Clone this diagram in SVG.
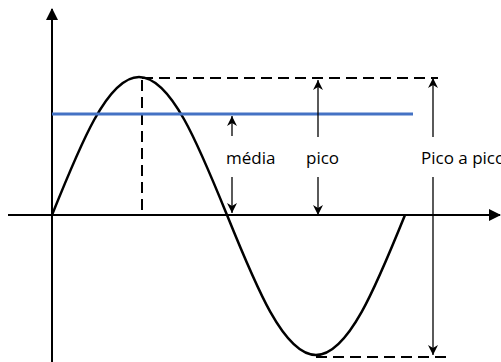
<svg xmlns="http://www.w3.org/2000/svg" width="501" height="362" viewBox="0 0 501 362">
<style>
.axis{stroke:#000;stroke-width:2;fill:none}
.wave{stroke:#000;stroke-width:2.5;fill:none}
.dash{stroke:#000;stroke-width:2;fill:none;stroke-dasharray:11 6}
.arr{stroke:#000;stroke-width:1.3;fill:none}
.mean{stroke:#4472C4;stroke-width:3;fill:none}
.lbl{font-family:"Open Sans","Liberation Sans",sans-serif;font-size:17px;fill:#000}
</style>
<defs>
<marker id="big" viewBox="0 0 12 12" refX="11" refY="6" markerWidth="12" markerHeight="12" markerUnits="userSpaceOnUse" orient="auto">
<path d="M0,0 L12,6 L0,12 Z" fill="#000"/>
</marker>
<marker id="small" viewBox="0 0 10 10" refX="10" refY="5" markerWidth="10" markerHeight="10" markerUnits="userSpaceOnUse" orient="auto">
<path d="M0,0 L10,5 L0,10 L3,5 Z" fill="#000"/>
</marker>
</defs>
<g id="axes">
<line class="axis" x1="52" y1="362" x2="52" y2="9" marker-end="url(#big)"/>
<line class="axis" x1="8" y1="215" x2="500" y2="215" marker-end="url(#big)"/>
</g>
<g id="wave">
<path class="wave" d="M52,215 C80.4,144.3 107.5,77 139,77 C170.9,77 198.3,144.3 227,215 C256,286.7 283.8,355 316,355 C348.2,355 376,286.7 405,215"/>
</g>
<g id="guides">
<line class="dash" x1="142" y1="80" x2="142" y2="212"/>
<line class="dash" x1="142" y1="78" x2="438" y2="78"/>
<line class="dash" x1="316" y1="357" x2="446" y2="357"/>
</g>
<g id="mean-line">
<line class="mean" x1="52" y1="114" x2="413" y2="114"/>
</g>
<g id="connectors">
<line class="arr" x1="232" y1="136" x2="232" y2="116" marker-end="url(#small)"/>
<line class="arr" x1="232" y1="177" x2="232" y2="213" marker-end="url(#small)"/>
<line class="arr" x1="318" y1="137" x2="318" y2="80" marker-end="url(#small)"/>
<line class="arr" x1="318" y1="177" x2="318" y2="215" marker-end="url(#small)"/>
<line class="arr" x1="433" y1="137" x2="433" y2="78" marker-end="url(#small)"/>
<line class="arr" x1="433" y1="177" x2="433" y2="355" marker-end="url(#small)"/>
</g>
<g id="label-media"><text class="lbl" x="226" y="164">média</text></g>
<g id="label-pico"><text class="lbl" x="306" y="164">pico</text></g>
<g id="label-pico-a-pico"><text class="lbl" x="421" y="164">Pico a pico</text></g>
</svg>
